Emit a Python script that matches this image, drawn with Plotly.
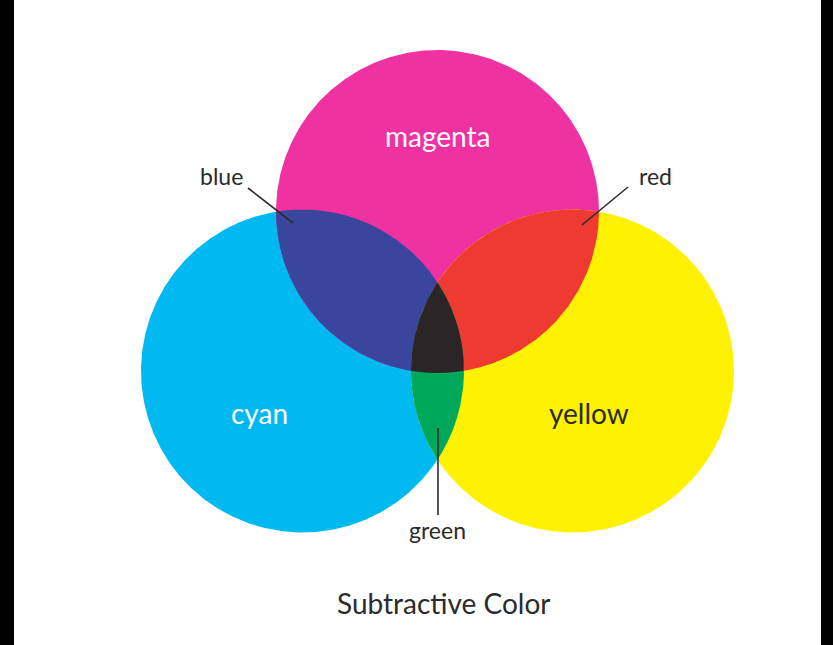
import numpy as np
import plotly.graph_objects as go

# ---- data ----
set_names = ["cyan", "magenta", "yellow"]
center_x = [302.5, 437.5, 572.5]
center_y = [371.0, 211.5, 371.0]
radius = [161.5, 161.5, 161.5]
set_colors = ["#00b9f1", "#f031a1", "#fff200"]

overlap_names = ["blue", "red", "green", "black"]
overlap_sets = [[0, 1], [1, 2], [0, 2], [0, 1, 2]]
overlap_colors = ["#3a459d", "#ef3a31", "#00a85b", "#2b2527"]

title_text = "Subtractive Color"


def circle_pts(i, n=720):
    t = np.linspace(0, 2 * np.pi, n, endpoint=False)
    return center_x[i] + radius[i] * np.cos(t), center_y[i] + radius[i] * np.sin(t)


def intersection_poly(idx):
    xs, ys = [], []
    for i in idx:
        x, y = circle_pts(i, 4000)
        mask = np.ones_like(x, dtype=bool)
        for j in idx:
            if j == i:
                continue
            mask &= (x - center_x[j]) ** 2 + (y - center_y[j]) ** 2 <= radius[j] ** 2 + 1e-6
        xs.append(x[mask]); ys.append(y[mask])
    xs = np.concatenate(xs); ys = np.concatenate(ys)
    cx, cy = xs.mean(), ys.mean()
    order = np.argsort(np.arctan2(ys - cy, xs - cx))
    xs, ys = xs[order], ys[order]
    return np.append(xs, xs[0]), np.append(ys, ys[0])


fig = go.Figure()

for i, name in enumerate(set_names):
    x, y = circle_pts(i)
    fig.add_trace(go.Scatter(x=np.append(x, x[0]), y=np.append(y, y[0]), fill="toself",
                             fillcolor=set_colors[i], line=dict(width=0, color=set_colors[i]),
                             mode="lines", hoverinfo="skip", name=name))

for k, name in enumerate(overlap_names):
    x, y = intersection_poly(overlap_sets[k])
    fig.add_trace(go.Scatter(x=x, y=y, fill="toself", fillcolor=overlap_colors[k],
                             line=dict(width=0, color=overlap_colors[k]),
                             mode="lines", hoverinfo="skip", name=name))

# leader lines
leaders = [((248, 188), (293, 223)), ((628, 187), (582, 225)), ((438, 428), (438, 515))]
for (x0, y0), (x1, y1) in leaders:
    fig.add_trace(go.Scatter(x=[x0, x1], y=[y0, y1], mode="lines",
                             line=dict(color="#2b2b2b", width=1.6), hoverinfo="skip"))

font = "Lato, 'Open Sans', sans-serif"
labels = [
    ("magenta", 437.5, 136, 28, "white"),
    ("cyan", 259, 413, 28, "white"),
    ("yellow", 588.5, 413, 28, "#2b2b2b"),
    ("blue", 221, 176, 23, "#2b2b2b"),
    ("red", 655, 176, 23, "#2b2b2b"),
    ("green", 437, 530, 23, "#2b2b2b"),
    (title_text, 443.5, 603, 28, "#2b2b2b"),
]
for t, x, y, s, c in labels:
    fig.add_annotation(x=x, y=y, text=t, showarrow=False, xanchor="center", yanchor="middle",
                       font=dict(family=font, size=s, color=c))

# black side borders
fig.add_shape(type="rect", x0=0, x1=14, y0=0, y1=645, fillcolor="black", line_width=0, layer="below")
fig.add_shape(type="rect", x0=821, x1=833, y0=0, y1=645, fillcolor="black", line_width=0, layer="below")

fig.update_layout(
    width=833, height=645, margin=dict(l=0, r=0, t=0, b=0),
    paper_bgcolor="white", plot_bgcolor="white", showlegend=False,
    xaxis=dict(range=[0, 833], visible=False, fixedrange=True),
    yaxis=dict(range=[645, 0], visible=False, fixedrange=True),
)

fig.write_html("out.html", config={"displayModeBar": False},
               post_script="document.body.style.margin='0';")
